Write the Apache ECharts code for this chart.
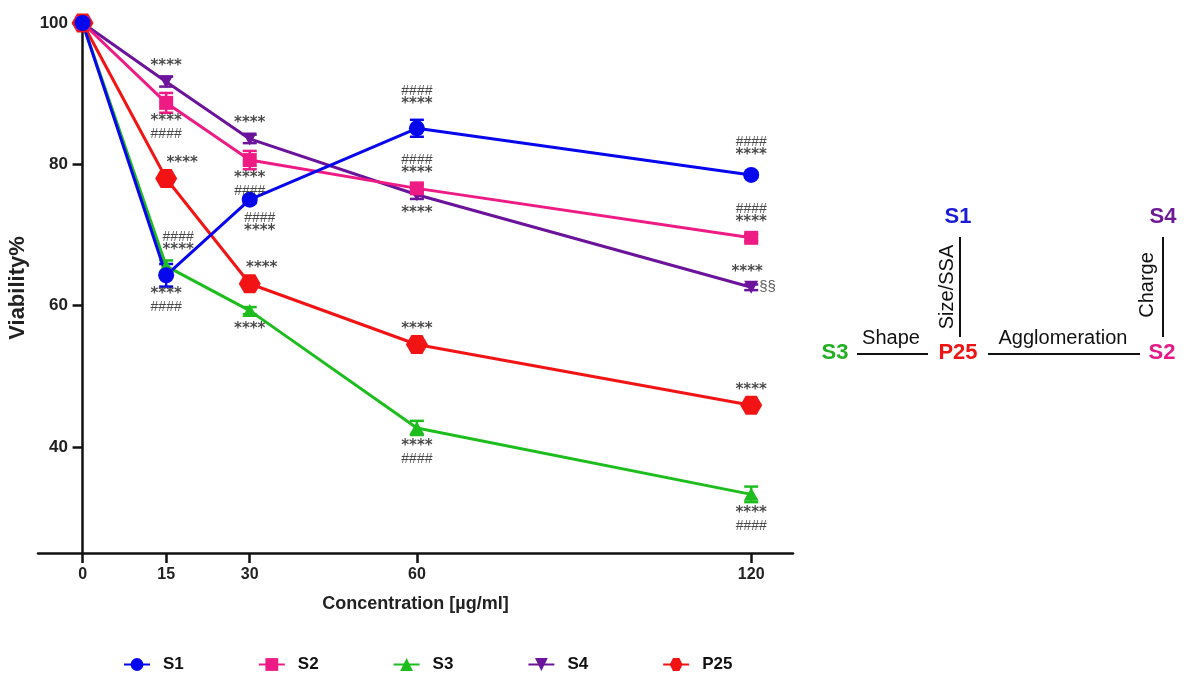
<!DOCTYPE html>
<html>
<head>
<meta charset="utf-8">
<script src="https://cdn.jsdelivr.net/npm/echarts@6/dist/echarts.min.js"></script>
<style>
  html, body { margin: 0; padding: 0; background: #fff; }
  #chart { width: 1186px; height: 675px; }
</style>
</head>
<body>
<div id="chart"></div>
<script>
// concentrations (µg/ml)
var conc = [0, 15, 30, 60, 120];
var xTicks = [0, 15, 30, 60, 120];
var yTicks = [40, 60, 80, 100];

// viability (%) and SEM
var s1Vals = [100, 64.3, 75.0, 85.1, 78.5];
var s2Vals = [100, 88.7, 80.6, 76.6, 69.6];
var s3Vals = [100, 65.6, 59.3, 42.7, 33.3];
var s4Vals = [100, 91.7, 83.6, 75.7, 62.6];
var p25Vals = [100, 78.0, 63.1, 54.5, 45.9];

var s1Err = [0, 1.6, 0.5, 1.2, 0.4];
var s2Err = [0, 1.4, 1.3, 0.6, 0.5];
var s3Err = [0, 0.8, 0.5, 1.0, 1.1];
var s4Err = [0, 0.7, 0.6, 0.6, 0.4];
var p25Err = [0, 0.5, 0.5, 0.5, 0.5];

// significance marks above / below each point
var s1Above = ['', '', '', '####\n****', '####\n****'];
var s1Below = ['', '****\n####', '####\n****', '', ''];
var s2Above = ['', '', '', '####\n****', '####\n****'];
var s2Below = ['', '****\n####', '****\n####', '', ''];
var s3Above = ['', '####\n****', '', '', ''];
var s3Below = ['', '', '****', '****\n####', '****\n####'];
var s4Above = ['', '****', '****', '', '****'];
var s4Below = ['', '', '', '****', ''];
var s4Right = ['', '', '', '', '§§'];
var p25Above = ['', '****', '****', '****', '****'];

var colors = { S1: '#0707ee', S2: '#ee1b85', S3: '#1ebd1e', S4: '#6b139b', P25: '#f21414' };

// small nudges of the marks (px)
var shiftAbove = { S3: [0, 12, 0, 0, 0], P25: [0, 16, 12, 0, 0], S4: [0, 0, 0, 0, -4] };
var shiftBelow = { S1: [0, 0, 10, 0, 0] };
var liftAbove = { S1: [0, 0, 0, 9, 4] };

var chart = echarts.init(document.getElementById('chart'));

function pairs(vals) {
    return conc.map(function (c, i) { return [c, vals[i]]; });
}

function rich(text) {
    return text.replace(/(\*+)/g, '{s|$1}').replace(/(#+)/g, '{h|$1}');
}

var richStyles = {
    s: { fontFamily: 'DejaVu Sans', fontWeight: 'bold', fontSize: 15, lineHeight: 13, color: '#1a1a1a' },
    h: { fontFamily: 'Liberation Sans', fontSize: 14, lineHeight: 13, color: '#1a1a1a' }
};

// notes series (text only, drawn from the data points)
function noteData(name, vals, above, below, right) {
    var out = [];
    for (var i = 0; i < conc.length; i++) {
        if (above && above[i]) {
            var dx = (shiftAbove[name] || [])[i] || 0;
            var dy = (liftAbove[name] || [])[i] || 0;
            out.push({ value: [conc[i], vals[i]], label: { show: true, position: 'top', distance: 9, offset: [dx, -dy], formatter: rich(above[i]), rich: richStyles } });
        }
        if (below && below[i]) {
            var dx2 = (shiftBelow[name] || [])[i] || 0;
            out.push({ value: [conc[i], vals[i]], label: { show: true, position: 'bottom', distance: 12, offset: [dx2, 0], formatter: rich(below[i]), rich: richStyles } });
        }
        if (right && right[i]) {
            out.push({ value: [conc[i], vals[i]], label: { show: true, position: 'right', distance: 8, formatter: right[i], fontFamily: 'Liberation Sans', fontSize: 15, color: '#333' } });
        }
    }
    return out;
}

function errSeries(name, vals, errs) {
    var color = colors[name];
    return {
        type: 'custom',
        name: name + '_err',
        z: 2,
        silent: true,
        renderItem: function (params, api) {
            var x = api.value(0), y = api.value(1), e = api.value(2);
            if (!e) return;
            var hi = api.coord([x, y + e]);
            var lo = api.coord([x, y - e]);
            var w = 7;
            var st = { stroke: color, lineWidth: 2.5 };
            return {
                type: 'group',
                children: [
                    { type: 'line', shape: { x1: hi[0], y1: hi[1], x2: lo[0], y2: lo[1] }, style: st },
                    { type: 'line', shape: { x1: hi[0] - w, y1: hi[1], x2: hi[0] + w, y2: hi[1] }, style: st },
                    { type: 'line', shape: { x1: lo[0] - w, y1: lo[1], x2: lo[0] + w, y2: lo[1] }, style: st }
                ]
            };
        },
        data: conc.map(function (c, i) { return [c, vals[i], errs[i]]; })
    };
}

function lineSeries(name, vals, symbol, size, rotate) {
    return {
        type: 'line',
        name: name,
        z: 3,
        data: pairs(vals),
        symbol: symbol,
        symbolSize: size,
        symbolRotate: rotate || 0,
        showAllSymbol: true,
        lineStyle: { color: colors[name], width: 3 },
        itemStyle: { color: colors[name] }
    };
}

var hexagon = 'path://M0,50 L25,6 L75,6 L100,50 L75,94 L25,94 Z';

var notes = [].concat(
    noteData('S1', s1Vals, s1Above, s1Below),
    noteData('S2', s2Vals, s2Above, s2Below),
    noteData('S3', s3Vals, s3Above, s3Below),
    noteData('S4', s4Vals, s4Above, s4Below, s4Right),
    noteData('P25', p25Vals, p25Above, null)
);

var axisFont = { fontFamily: 'Liberation Sans', fontWeight: 'bold', color: '#222' };

var diagText = { fontFamily: 'Liberation Sans', fontSize: 20, fill: '#111', textAlign: 'center', textVerticalAlign: 'middle' };
function label(text, x, y, color, bold, rot) {
    return {
        type: 'text', x: x, y: y, rotation: rot || 0,
        style: Object.assign({}, diagText, { text: text, fill: color || '#111', fontWeight: bold ? 'bold' : 'normal', fontSize: bold ? 22 : 20 })
    };
}
function seg(x1, y1, x2, y2) {
    return { type: 'line', shape: { x1: x1, y1: y1, x2: x2, y2: y2 }, style: { stroke: '#111', lineWidth: 2 } };
}

chart.setOption({
    animation: false,
    backgroundColor: '#fff',
    grid: { left: 38, right: 393, top: 23, bottom: 122, containLabel: false, outerBoundsMode: 'none' },
    legend: {
        data: ['S1', 'S2', 'S3', 'S4', 'P25'],
        left: 118,
        top: 651,
        itemWidth: 26,
        itemHeight: 16,
        itemGap: 74,
        textStyle: { fontFamily: 'Liberation Sans', fontWeight: 'bold', fontSize: 17, color: '#111', padding: [0, 0, 0, 8] }
    },
    xAxis: {
        type: 'value',
        min: -8,
        max: 127.5,
        name: 'Concentration [µg/ml]',
        nameLocation: 'middle',
        nameGap: 42,
        nameTextStyle: Object.assign({ fontSize: 18 }, axisFont),
        axisLine: { lineStyle: { color: '#111', width: 2.5 } },
        axisTick: { show: true, length: 10, lineStyle: { color: '#111', width: 2.5 }, customValues: xTicks },
        axisLabel: Object.assign({ fontSize: 16, margin: 14, customValues: xTicks }, axisFont),
        splitLine: { show: false }
    },
    yAxis: {
        type: 'value',
        min: 25,
        max: 100,
        name: 'Viability%',
        nameLocation: 'middle',
        nameGap: -1,
        nameTextStyle: Object.assign({ fontSize: 22 }, axisFont),
        axisLine: { onZero: true, lineStyle: { color: '#111', width: 2.5 } },
        axisTick: { show: true, length: 10, lineStyle: { color: '#111', width: 2.5 }, customValues: yTicks },
        axisLabel: Object.assign({ fontSize: 17, margin: -30, customValues: yTicks }, axisFont),
        splitLine: { show: false }
    },
    series: [
        errSeries('P25', p25Vals, p25Err),
        errSeries('S3', s3Vals, s3Err),
        errSeries('S4', s4Vals, s4Err),
        errSeries('S2', s2Vals, s2Err),
        errSeries('S1', s1Vals, s1Err),
        lineSeries('P25', p25Vals, hexagon, [22, 19]),
        lineSeries('S3', s3Vals, 'triangle', [15, 13]),
        lineSeries('S4', s4Vals, 'triangle', [14, 13], 180),
        lineSeries('S2', s2Vals, 'rect', 14),
        lineSeries('S1', s1Vals, 'circle', 16),
        {
            type: 'scatter',
            name: 'notes',
            symbolSize: 0,
            silent: true,
            z: 5,
            data: notes
        }
    ],
    graphic: [
        label('S1', 958, 217, '#1a1ad8', true),
        label('S4', 1163, 217, '#6e1a96', true),
        label('S3', 835, 353, '#22b022', true),
        label('P25', 958, 353, '#ee1414', true),
        label('S2', 1162, 353, '#e51a86', true),
        seg(857, 354, 928, 354),
        label('Shape', 891, 338),
        seg(988, 354, 1140, 354),
        label('Agglomeration', 1063, 338),
        seg(960, 237, 960, 337),
        label('Size/SSA', 947, 287, null, false, Math.PI / 2),
        seg(1163, 237, 1163, 337),
        label('Charge', 1147, 285, null, false, Math.PI / 2)
    ]
});
</script>
</body>
</html>
